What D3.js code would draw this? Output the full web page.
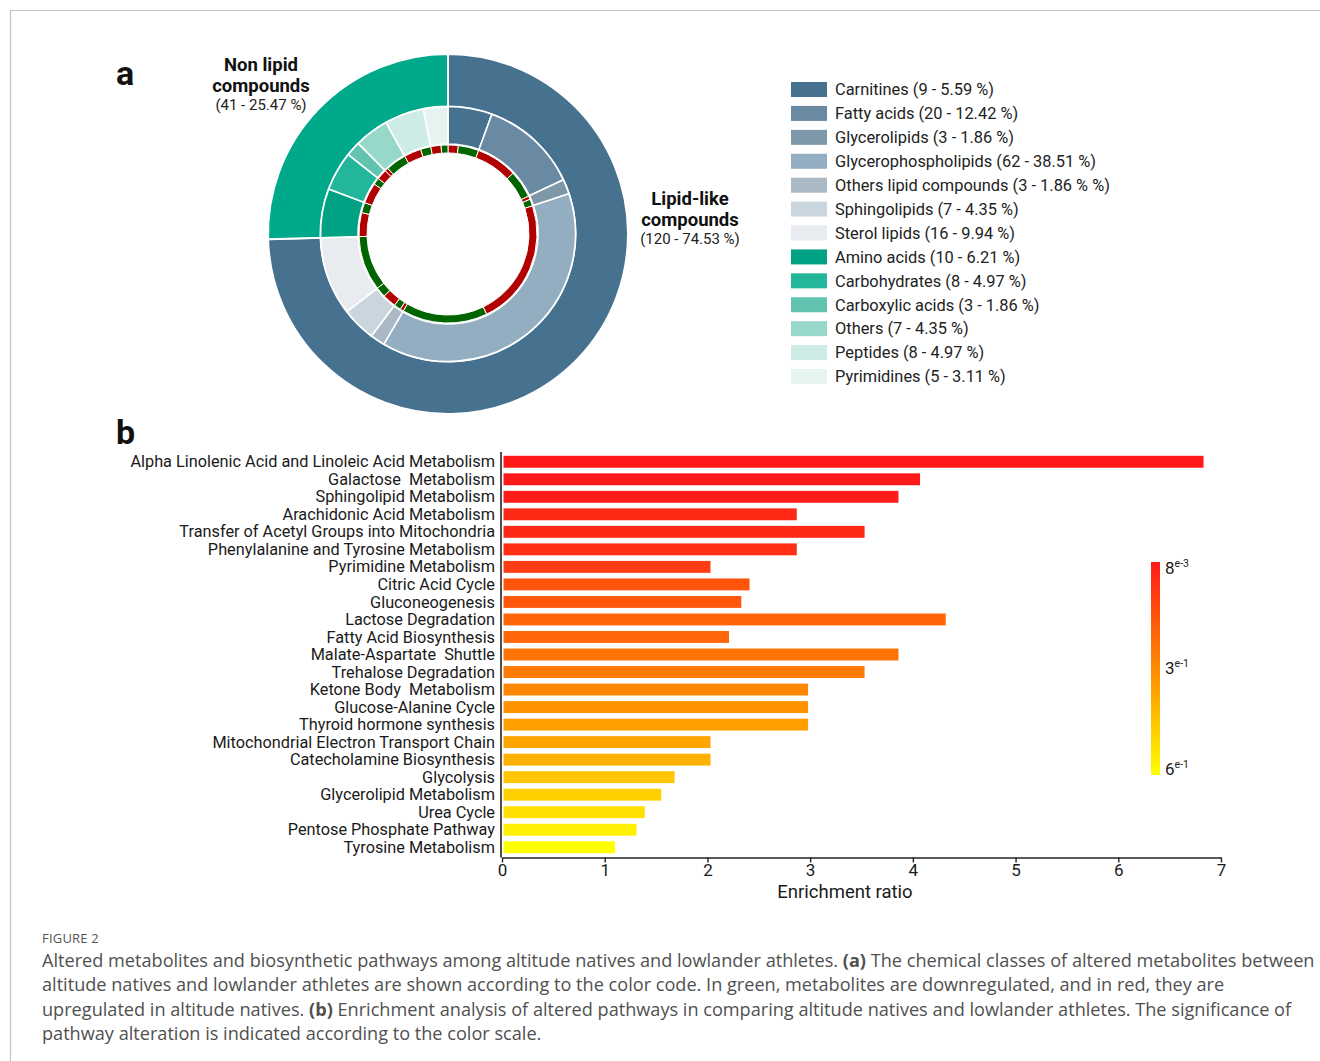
<!DOCTYPE html>
<html>
<head>
<meta charset="utf-8">
<script src="https://cdn.jsdelivr.net/npm/d3@7"></script>
<style>
  html, body { margin: 0; padding: 0; background: #fff; }
  svg { display: block; font-family: Roboto, "Liberation Sans", sans-serif; }
</style>
</head>
<body>
<svg id="fig" width="1320" height="1061"></svg>
<script>
// ---------- Panel a: chemical classes of altered metabolites ----------
const groupNames = ["Lipid-like", "Non lipid"];
const groupCounts = [120, 41];
const groupPercents = ["74.53", "25.47"];
const groupColors = ["#46718f", "#00a98a"];

const classNames = [
  "Carnitines", "Fatty acids", "Glycerolipids", "Glycerophospholipids",
  "Others lipid compounds", "Sphingolipids", "Sterol lipids",
  "Amino acids", "Carbohydrates", "Carboxylic acids", "Others", "Peptides", "Pyrimidines"
];
const classCounts = [9, 20, 3, 62, 3, 7, 16, 10, 8, 3, 7, 8, 5];
const classPercents = ["5.59 %", "12.42 %", "1.86 %", "38.51 %", "1.86 % %", "4.35 %", "9.94 %",
                       "6.21 %", "4.97 %", "1.86 %", "4.35 %", "4.97 %", "3.11 %"];
const classColors = [
  "#46718f", "#6a8aa4", "#7e98aa", "#93aec0", "#aab9c5", "#cad6de", "#e8ebef",
  "#00a283", "#22b79a", "#62c4b0", "#98d8cb", "#cdece6", "#e5f4f1"
];
// metabolites per class: upregulated (red) then downregulated (green)
const upCounts   = [3, 12, 1, 37, 1, 4, 0, 7, 6, 3, 1, 5, 3];
const downCounts = [6, 8, 2, 25, 2, 3, 16, 3, 2, 0, 6, 3, 2];
const upColor = "#b00000";
const downColor = "#006400";

// ---------- Panel b: pathway enrichment ----------
const pathways = [
  "Alpha Linolenic Acid and Linoleic Acid Metabolism",
  "Galactose  Metabolism",
  "Sphingolipid Metabolism",
  "Arachidonic Acid Metabolism",
  "Transfer of Acetyl Groups into Mitochondria",
  "Phenylalanine and Tyrosine Metabolism",
  "Pyrimidine Metabolism",
  "Citric Acid Cycle",
  "Gluconeogenesis",
  "Lactose Degradation",
  "Fatty Acid Biosynthesis",
  "Malate-Aspartate  Shuttle",
  "Trehalose Degradation",
  "Ketone Body  Metabolism",
  "Glucose-Alanine Cycle",
  "Thyroid hormone synthesis",
  "Mitochondrial Electron Transport Chain",
  "Catecholamine Biosynthesis",
  "Glycolysis",
  "Glycerolipid Metabolism",
  "Urea Cycle",
  "Pentose Phosphate Pathway",
  "Tyrosine Metabolism"
];
const enrichment = [6.83, 4.07, 3.86, 2.87, 3.53, 2.87, 2.03, 2.41, 2.33, 4.32, 2.21, 3.86,
                    3.53, 2.98, 2.98, 2.98, 2.03, 2.03, 1.68, 1.55, 1.39, 1.31, 1.10];
const pValues = [0.008, 0.009, 0.012, 0.05, 0.05, 0.06, 0.10, 0.16, 0.17, 0.20, 0.21, 0.24,
                 0.26, 0.29, 0.32, 0.35, 0.37, 0.40, 0.45, 0.48, 0.52, 0.56, 0.60];
const xTicks = [0, 1, 2, 3, 4, 5, 6, 7];
const pTickBase = ["8", "3", "6"];
const pTickExp = ["e-3", "e-1", "e-1"];
const pTickValues = [0.008, 0.3, 0.6];

const captionTitle = "FIGURE 2";

const svg = d3.select("#fig");

// frame around the figure
svg.append("path")
  .attr("d", "M10.5,1061 V10.5 H1320")
  .attr("fill", "none").attr("stroke", "#c4c4c4").attr("stroke-width", 1.2);

// panel letters
svg.append("text").attr("x", 116).attr("y", 85)
  .attr("font-size", 34).attr("font-weight", 700).attr("fill", "#111").text("a");
svg.append("text").attr("x", 116).attr("y", 444)
  .attr("font-size", 34).attr("font-weight", 700).attr("fill", "#111").text("b");

// ---------- donut ----------
const cx = 448, cy = 234;
const donut = svg.append("g").attr("transform", `translate(${cx},${cy})`);
const pie = d3.pie().sort(null).value(d => d);

const outerArc = d3.arc().innerRadius(127.5).outerRadius(180);
donut.selectAll("path.group").data(pie(groupCounts)).join("path")
  .attr("class", "group").attr("d", outerArc)
  .attr("fill", (d, i) => groupColors[i])
  .attr("stroke", "#fff").attr("stroke-width", 2);

const midArc = d3.arc().innerRadius(90).outerRadius(127.5);
donut.selectAll("path.cls").data(pie(classCounts)).join("path")
  .attr("class", "cls").attr("d", midArc)
  .attr("fill", (d, i) => classColors[i])
  .attr("stroke", "#fff").attr("stroke-width", 1.6);

const runs = [];
classCounts.forEach((c, i) => {
  if (upCounts[i] > 0) runs.push({ n: upCounts[i], color: upColor });
  if (downCounts[i] > 0) runs.push({ n: downCounts[i], color: downColor });
});
const innerArc = d3.arc().innerRadius(81).outerRadius(89);
donut.selectAll("path.run").data(d3.pie().sort(null).value(d => d.n)(runs)).join("path")
  .attr("class", "run").attr("d", innerArc)
  .attr("fill", d => d.data.color)
  .attr("stroke", "#fff").attr("stroke-width", 1);

// group labels
function groupLabel(x, y, lines, sub) {
  const t = svg.append("text").attr("text-anchor", "middle").attr("fill", "#111");
  lines.forEach((s, k) => {
    t.append("tspan").attr("x", x).attr("y", y + k * 20.5)
      .attr("font-size", 18.5).attr("font-weight", 700).text(s);
  });
  t.append("tspan").attr("x", x).attr("y", y + lines.length * 20.5 - 2.5)
    .attr("font-size", 15).attr("fill", "#222").text(sub);
}
groupLabel(261, 71, ["Non lipid", "compounds"], `(${groupCounts[1]} - ${groupPercents[1]} %)`);
groupLabel(690, 205, ["Lipid-like", "compounds"], `(${groupCounts[0]} - ${groupPercents[0]} %)`);

// legend
const legend = svg.append("g");
const legY = d3.scalePoint().domain(classNames).range([89.5, 376.5]);
classNames.forEach((name, i) => {
  const y = legY(name);
  legend.append("rect").attr("x", 791).attr("y", y - 7.5).attr("width", 36).attr("height", 15)
    .attr("fill", classColors[i]);
  legend.append("text").attr("x", 835).attr("y", y + 5.8)
    .attr("font-size", 16.4).attr("fill", "#222")
    .text(`${name} (${classCounts[i]} - ${classPercents[i]})`);
});

// ---------- bar chart ----------
const x = d3.scaleLinear().domain([0, 7]).range([502, 1221]);
const y = d3.scaleBand().domain(pathways).range([453, 856])
  .paddingInner(0.32).paddingOuter(0.16);
const color = d3.scaleLinear().domain(pTickValues)
  .range(["#ff1a1a", "#ff8a00", "#ffff00"]);

const bars = svg.append("g");
bars.selectAll("rect").data(pathways).join("rect")
  .attr("x", x(0) + 1.5)
  .attr("y", d => y(d))
  .attr("width", (d, i) => x(enrichment[i]) - x(0) - 1.5)
  .attr("height", y.bandwidth())
  .attr("fill", (d, i) => color(pValues[i]));

bars.selectAll("text.lab").data(pathways).join("text")
  .attr("class", "lab")
  .attr("x", 495).attr("y", d => y(d) + y.bandwidth() / 2 + 5.6)
  .attr("text-anchor", "end").attr("font-size", 16.3).attr("fill", "#1a1a1a")
  .style("white-space", "pre")
  .text(d => d);

// axes
const axisY = 857.5;
svg.append("line").attr("x1", 501).attr("x2", 501).attr("y1", 452).attr("y2", axisY)
  .attr("stroke", "#222").attr("stroke-width", 1.6);
const xAxis = svg.append("g").attr("transform", `translate(0,${axisY})`)
  .call(d3.axisBottom(x).tickValues(xTicks).tickSize(5).tickSizeOuter(0).tickFormat(d3.format("d")));
xAxis.select(".domain").attr("stroke", "#222").attr("stroke-width", 1.6);
xAxis.selectAll(".tick line").attr("stroke", "#222").attr("stroke-width", 1.4);
xAxis.selectAll(".tick text").attr("font-size", 17).attr("fill", "#1a1a1a")
  .attr("font-family", "Roboto, sans-serif").attr("dy", "0.6em");
svg.append("text").attr("x", 845).attr("y", 898).attr("text-anchor", "middle")
  .attr("font-size", 18.5).attr("fill", "#1a1a1a").text("Enrichment ratio");

// colour scale legend
const defs = svg.append("defs");
const grad = defs.append("linearGradient").attr("id", "pgrad")
  .attr("x1", 0).attr("y1", 0).attr("x2", 0).attr("y2", 1);
const cbY = d3.scaleLinear().domain(pTickValues).range([562, 668, 775]);
pTickValues.forEach(v => {
  grad.append("stop").attr("offset", (cbY(v) - 562) / (775 - 562)).attr("stop-color", color(v));
});
svg.append("rect").attr("x", 1151).attr("y", 562).attr("width", 9).attr("height", 213)
  .attr("fill", "url(#pgrad)");
const labelShift = [6, 0, -6];
pTickValues.forEach((v, i) => {
  const t = svg.append("text").attr("x", 1165).attr("y", cbY(v) + labelShift[i] + 6)
    .attr("fill", "#1a1a1a");
  t.append("tspan").attr("font-size", 17).text(pTickBase[i]);
  t.append("tspan").attr("font-size", 10.5).attr("dy", -7).text(pTickExp[i]);
});

// ---------- caption ----------
const cap = svg.append("g").attr("font-family", "'Open Sans', 'Noto Sans', sans-serif").attr("fill", "#505050");
cap.append("text").attr("x", 42).attr("y", 943).attr("font-size", 13)
  .attr("letter-spacing", 0.2).attr("fill", "#555").text(captionTitle);
const capLines = [
  [["Altered metabolites and biosynthetic pathways among altitude natives and lowlander athletes. ", 0], ["(a)", 1], [" The chemical classes of altered metabolites between", 0]],
  [["altitude natives and lowlander athletes are shown according to the color code. In green, metabolites are downregulated, and in red, they are", 0]],
  [["upregulated in altitude natives. ", 0], ["(b)", 1], [" Enrichment analysis of altered pathways in comparing altitude natives and lowlander athletes. The significance of", 0]],
  [["pathway alteration is indicated according to the color scale.", 0]]
];
const capTexts = capLines.map((parts, k) => {
  const t = cap.append("text").attr("x", 42).attr("y", 967 + k * 24.3)
    .attr("font-size", 16.5).style("white-space", "pre");
  parts.forEach(([s, b]) => {
    t.append("tspan").attr("font-weight", b ? 700 : 400).text(s);
  });
  return t;
});
// size the caption type so the longest line still ends inside the page
const widest = d3.max(capTexts, t => t.node().getComputedTextLength());
const capSize = 16.5 * (1316 - 42) / widest;
capTexts.forEach(t => t.attr("font-size", capSize));
</script>
</body>
</html>
